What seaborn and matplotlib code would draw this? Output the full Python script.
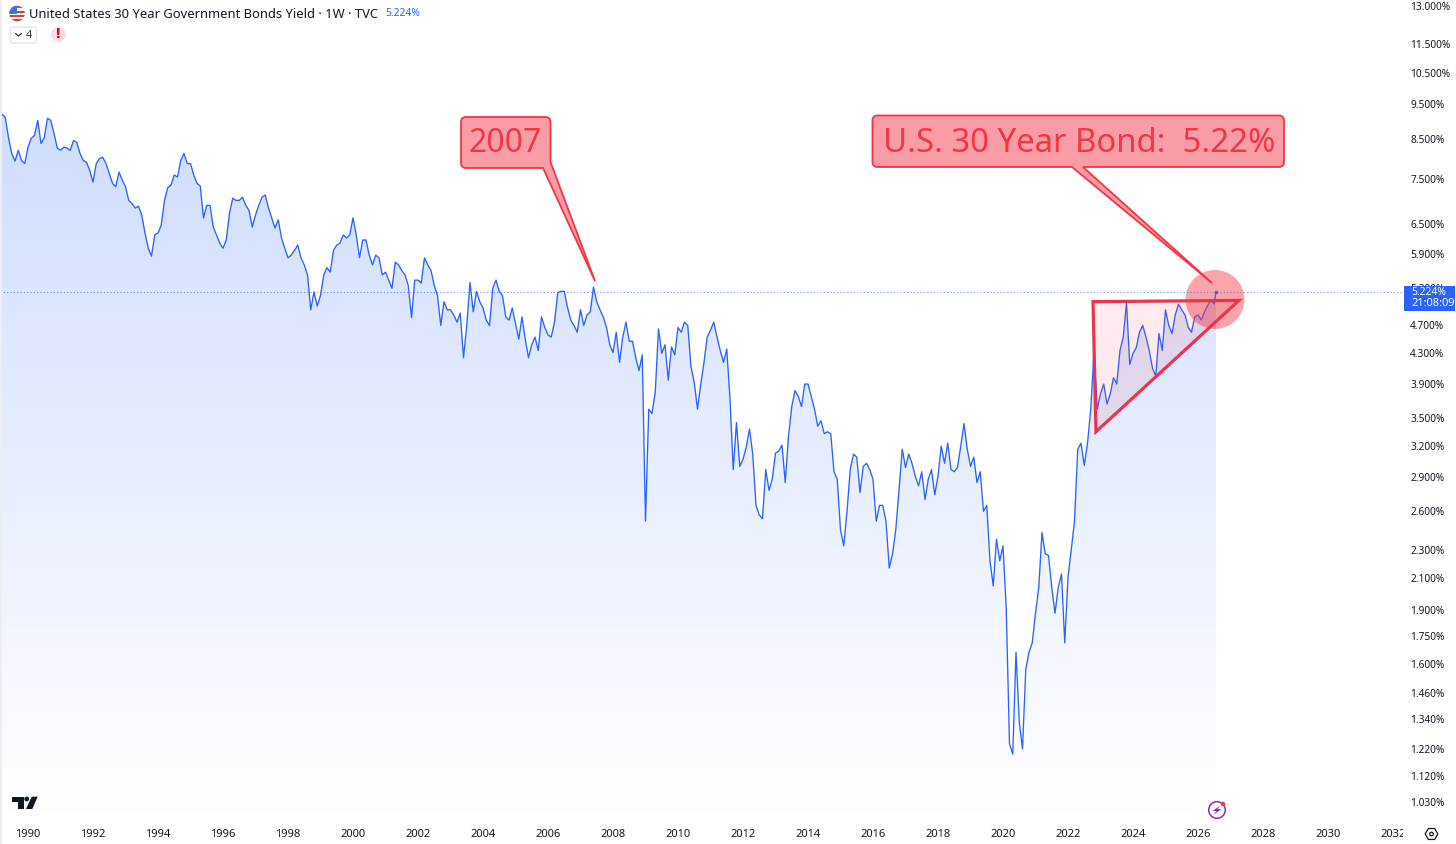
import numpy as np
import pandas as pd
import matplotlib
matplotlib.use("Agg")
import matplotlib.pyplot as plt
import seaborn as sns
from matplotlib.colors import LinearSegmentedColormap
from matplotlib.patches import Circle, FancyBboxPatch, PathPatch, Polygon, Rectangle
from matplotlib.path import Path
from matplotlib.transforms import Bbox

# ---------- data (yield in %, one reading every 0.1 year from 1989.2) ----------
yields_1989 = [9.21, 9.12, 8.55, 8.13, 7.93, 8.21, 7.95, 7.87]
yields_1990s = [
    8.29, 8.53, 8.61, 9.03, 8.39, 8.55, 9.09, 9.03, 8.67, 8.27,
    8.21, 8.29, 8.27, 8.21, 8.47, 8.42, 8.13, 7.95, 7.90, 7.70,
    7.42, 7.87, 8.00, 8.03, 7.87, 7.63, 7.39, 7.31, 7.66, 7.47,
    7.31, 7.00, 6.93, 6.83, 6.87, 6.68, 6.31, 6.01, 5.86, 6.27,
    6.31, 6.47, 7.00, 7.29, 7.35, 7.59, 7.54, 7.95, 8.13, 7.87,
    7.87, 7.59, 7.39, 7.33, 6.62, 6.89, 6.89, 6.43, 6.27, 6.11,
    6.01, 6.17, 6.72, 7.05, 7.00, 7.00, 7.07, 6.89, 6.78, 6.43,
    6.68, 6.89, 7.07, 7.12, 6.83, 6.62, 6.41, 6.58, 6.21, 6.01,
    5.83, 5.88, 5.97, 6.07, 5.83, 5.70, 5.52, 4.94, 5.23, 5.00,
    5.17, 5.52, 5.65, 5.57, 5.97, 6.07, 6.11, 6.27, 6.21, 6.27,
]
yields_2000s = [
    6.62, 6.27, 5.83, 6.17, 6.17, 5.88, 5.70, 5.88, 5.83, 5.52,
    5.57, 5.43, 5.29, 5.75, 5.70, 5.60, 5.52, 5.34, 4.82, 5.43,
    5.43, 5.38, 5.83, 5.70, 5.60, 5.34, 5.17, 4.70, 5.07, 4.94,
    4.94, 4.86, 4.75, 4.89, 4.24, 4.70, 5.39, 4.91, 5.24, 5.07,
    4.97, 4.78, 4.70, 5.29, 5.43, 5.24, 5.17, 4.83, 4.78, 4.97,
    4.73, 4.50, 4.83, 4.50, 4.24, 4.42, 4.53, 4.34, 4.83, 4.67,
    4.56, 4.53, 4.75, 5.22, 5.24, 5.24, 4.98, 4.78, 4.70, 4.60,
    4.94, 4.70, 4.86, 4.91, 5.31, 5.07, 4.94, 4.83, 4.67, 4.42,
    4.31, 4.60, 4.18, 4.53, 4.75, 4.47, 4.47, 4.24, 4.07, 4.28,
    2.52, 3.60, 3.55, 3.80, 4.65, 4.30, 4.42, 3.95, 4.39, 4.28,
]
yields_2010s = [
    4.67, 4.60, 4.75, 4.70, 4.12, 3.92, 3.60, 3.90, 4.18, 4.53,
    4.63, 4.75, 4.53, 4.34, 4.18, 4.36, 3.72, 2.97, 3.45, 3.00,
    3.07, 3.19, 3.38, 3.12, 2.65, 2.57, 2.54, 2.97, 2.78, 2.88,
    3.13, 3.15, 3.21, 2.85, 3.30, 3.63, 3.82, 3.75, 3.63, 3.90,
    3.90, 3.75, 3.60, 3.41, 3.47, 3.33, 3.35, 3.33, 2.95, 2.88,
    2.45, 2.33, 2.60, 2.97, 3.12, 3.09, 2.76, 3.00, 3.03, 2.97,
    2.88, 2.52, 2.65, 2.65, 2.52, 2.17, 2.27, 2.45, 2.78, 3.17,
    2.99, 3.12, 3.03, 2.91, 2.82, 2.95, 2.70, 2.88, 2.97, 2.74,
    2.91, 3.20, 3.03, 3.23, 2.97, 2.95, 2.99, 3.20, 3.44, 3.17,
    3.00, 3.09, 2.85, 2.95, 2.60, 2.65, 2.22, 2.05, 2.38, 2.22,
]
yields_2020s = [
    2.33, 1.91, 1.24, 1.20, 1.66, 1.33, 1.22, 1.57, 1.66, 1.71,
    1.88, 2.04, 2.43, 2.27, 2.26, 2.04, 1.88, 2.04, 2.13, 1.71,
    2.11, 2.30, 2.52, 3.17, 3.23, 3.01, 3.23, 3.60, 4.34, 3.60,
    3.78, 3.90, 3.66, 3.78, 3.98, 3.90, 4.34, 4.53, 5.05, 4.15,
    4.30, 4.38, 4.60, 4.70, 4.53, 4.34, 4.10, 4.00, 4.58, 4.34,
    4.94, 4.70, 4.58, 4.86, 5.03, 4.94, 4.86, 4.67, 4.60, 4.83,
    4.86, 4.78, 4.91, 5.01, 5.10, 5.03, 5.224,
]
x_ticks = list(range(1990, 2033, 2))
y_ticks = [13.0, 11.5, 10.5, 9.5, 8.5, 7.5, 6.5, 5.9, 5.3, 4.7, 4.3, 3.9, 3.5,
           3.2, 2.9, 2.6, 2.3, 2.1, 1.9, 1.75, 1.6, 1.46, 1.34, 1.22, 1.12, 1.03]
last_value = 5.224
triangle_year = [2022.77, 2027.26, 2022.86]
triangle_yield = [5.07, 5.09, 3.35]

yields = np.array(yields_1989 + yields_1990s + yields_2000s + yields_2010s + yields_2020s)
years = 1989.2 + 0.1 * np.arange(len(yields))
years[-1] = 2026.55
df = pd.DataFrame({"year": years, "yield": yields})

# ---------- figure and scales ----------
W, H = 1456, 844
sns.set_theme(style="white")
plt.rcParams["font.family"] = ["Noto Sans", "DejaVu Sans"]
INK = "#131722"
BLUE = "#2962ff"
RED = "#f23645"

fig = plt.figure(figsize=(W / 100, H / 100), dpi=100, facecolor="white")
PANE_R, PANE_B = 1404, 822
ax = fig.add_axes([0, 1 - PANE_B / H, PANE_R / W, PANE_B / H])
ax.set_yscale("log")
px_per_year = 32.5
px_per_ln = 314.0
ax.set_xlim(1990 - 28 / px_per_year, 1990 + (PANE_R - 28) / px_per_year)
y_top = 13.0 * np.exp(6 / px_per_ln)
y_bot = 13.0 * np.exp(-(PANE_B - 6) / px_per_ln)
ax.set_ylim(y_bot, y_top)

# gradient area
grad_top = 13.0 * np.exp(-(114 - 6) / px_per_ln)
poly = ax.fill_between(df["year"], df["yield"], y_bot, facecolor="none", edgecolor="none")
edges = np.geomspace(y_bot, y_top, 400)
mids = np.sqrt(edges[:-1] * edges[1:])
vals = np.clip(np.log(mids / y_bot) / np.log(grad_top / y_bot), 0, 1)[:, None]
cmap = LinearSegmentedColormap.from_list("area", ["#ffffff", "#cfdcfd"])
mesh = ax.pcolormesh([df["year"].iloc[0], df["year"].iloc[-1]], edges, vals, cmap=cmap,
                     vmin=0, vmax=1, shading="flat", zorder=1, linewidth=0)
mesh.set_clip_path(poly.get_paths()[0], transform=ax.transData)

# series
sns.lineplot(data=df, x="year", y="yield", ax=ax, estimator=None, errorbar=None,
             color=BLUE, linewidth=0.95, zorder=3)
ax.plot(df["year"].iloc[-1], df["yield"].iloc[-1], "o", color=BLUE, ms=2.6, mew=0, zorder=3)
ax.axhline(last_value, color=BLUE, lw=0.8, ls=(0, (1, 2)), alpha=0.7, zorder=2)

# triangle annotation, in data coordinates
ax.add_patch(Polygon(np.column_stack([triangle_year, triangle_yield]), closed=True,
                     facecolor=RED, alpha=0.1, edgecolor="none", zorder=4))
ax.add_patch(Polygon(np.column_stack([triangle_year, triangle_yield]), closed=True,
                     facecolor="none", edgecolor="#ea3352", lw=2.3, joinstyle="miter", zorder=5))

# axes cosmetics
sns.despine(ax=ax, left=True, bottom=True, right=True, top=True)
ax.set_xlabel("")
ax.set_ylabel("")
ax.set_xticks(x_ticks)
ax.set_xticklabels([str(v) for v in x_ticks], fontsize=8, color=INK)
ax.yaxis.tick_right()
ax.set_yticks(y_ticks)
ax.set_yticklabels([f"{v:.3f}%" for v in y_ticks], fontsize=7.3, color=INK)
ax.minorticks_off()
ax.tick_params(axis="both", which="both", length=0)
ax.tick_params(axis="x", pad=5)
ax.tick_params(axis="y", pad=4.5)
ax.grid(False)
clip = Bbox([[0, 0], [1402.5, H]])
for lab in ax.get_xticklabels():
    lab.set_clip_on(True)
    lab.set_clip_box(clip)

# ---------- overlay in pixel coordinates for the chart furniture ----------
ov = fig.add_axes([0, 0, 1, 1], facecolor="none")
ov.set_xlim(0, W)
ov.set_ylim(H, 0)
ov.axis("off")

ov.add_patch(Rectangle((0, 0), 2, H, facecolor="#eceef1", edgecolor="none"))


def callout(x0, y0, x1, y1, r, wedge, skip_br=False):
    C3, L = Path.CURVE3, Path.LINETO
    v = [(x0 + r, y0), (x1 - r, y0), (x1, y0), (x1, y0 + r)]
    c = [Path.MOVETO, L, C3, C3]
    if skip_br:
        v += wedge
        c += [L] * len(wedge)
    else:
        v += [(x1, y1 - r), (x1, y1), (x1 - r, y1)] + wedge
        c += [L, C3, C3] + [L] * len(wedge)
    v += [(x0 + r, y1), (x0, y1), (x0, y1 - r), (x0, y0 + r), (x0, y0), (x0 + r, y0), (x0 + r, y0)]
    c += [L, C3, C3, L, C3, C3, Path.CLOSEPOLY]
    ov.add_patch(PathPatch(Path(v, c), facecolor="#f99ca5", edgecolor=RED, lw=1.3, zorder=6))


callout(461, 117, 550.5, 168, 5, [(550.5, 162), (595, 281), (543, 168)], skip_br=True)
callout(872.5, 115.5, 1284, 167, 5, [(1083, 167), (1212, 283), (1072, 167)])
ov.text(505.5, 143, "2007", color=RED, fontsize=23, ha="center", va="center", zorder=7)
ov.text(1079, 143, "U.S. 30 Year Bond:  5.22%", color=RED, fontsize=23.7,
        ha="center", va="center", zorder=7)

ov.add_patch(Circle((1215, 299.5), 29.5, facecolor=RED, alpha=0.45, edgecolor="none", zorder=5))

# last price label
ov.add_patch(Rectangle((1404, 286), 51, 25, facecolor=BLUE, edgecolor="none", zorder=6))
ov.text(1411, 292.5, "5.224%", color="white", fontsize=7.4, va="center", zorder=7)
ov.text(1411, 304, "21:08:09", color="white", fontsize=8, va="center", zorder=7)

# header
ov.text(29, 14, "United States 30 Year Government Bonds Yield · 1W · TVC", color=INK,
        fontsize=9.35, va="center")
ov.text(385, 14, "5.224%", color=BLUE, fontsize=7.4, va="center")
flag = Circle((17, 13.5), 7.8, facecolor="white", edgecolor="none")
ov.add_patch(flag)
for top, hgt in [(5.5, 2.5), (10.5, 2.2), (15, 2.2), (18.5, 3.5)]:
    st = Rectangle((9, top), 16, hgt, facecolor="#e9383f", edgecolor="none")
    ov.add_patch(st)
    st.set_clip_path(flag)
cant = Rectangle((9, 5), 8, 8.5, facecolor="#3c78d8", edgecolor="none")
ov.add_patch(cant)
cant.set_clip_path(flag)
ov.add_patch(FancyBboxPatch((10.5, 27), 26, 16, boxstyle="round,pad=0,rounding_size=2",
                            facecolor="white", edgecolor="#e0e3eb", lw=0.9))
ov.plot([15.5, 18.5, 21.5], [33.5, 36, 33.5], color=INK, lw=0.8)
ov.text(29.5, 35, "4", color="#333a45", fontsize=8, ha="center", va="center")
ov.add_patch(Circle((58.5, 34.5), 7.5, facecolor="#f7dfe1", edgecolor="none"))
ov.text(58.5, 34.5, "!", color="#b2182b", fontsize=10, fontweight="bold", ha="center", va="center",
        family="DejaVu Sans")

# TradingView mark
ov.add_patch(Polygon([(12.3, 796.7), (24, 796.7), (24, 809), (18.3, 809), (18.3, 801.7), (12.3, 801.7)],
                     facecolor=INK, edgecolor="none"))
ov.add_patch(Circle((26.7, 799), 2.4, facecolor=INK, edgecolor="none"))
ov.add_patch(Polygon([(31.7, 796.7), (37.7, 796.7), (32.3, 809), (26, 809)], facecolor=INK, edgecolor="none"))

# lightning badge
ov.add_patch(Circle((1217, 810), 8.3, facecolor="white", edgecolor="#9c27b0", lw=1.1))
ov.add_patch(Polygon([(1220.5, 805.5), (1212.5, 811), (1216.5, 811), (1214, 814.5), (1221.5, 809), (1217.5, 809)],
                     facecolor="#9c27b0", edgecolor="none"))
ov.add_patch(Circle((1223, 804), 2.2, facecolor="#f23645", edgecolor="none"))

# settings hexagon
ang = np.deg2rad(np.arange(0, 360, 60))
ov.add_patch(Polygon(np.column_stack([1431.5 + 6.3 * np.cos(ang), 834 + 6.3 * np.sin(ang)]),
                     facecolor="none", edgecolor=INK, lw=0.9))
ov.add_patch(Circle((1431.5, 834), 1.8, facecolor="none", edgecolor=INK, lw=0.9))

fig.savefig("out.png", dpi=100, facecolor="white")
